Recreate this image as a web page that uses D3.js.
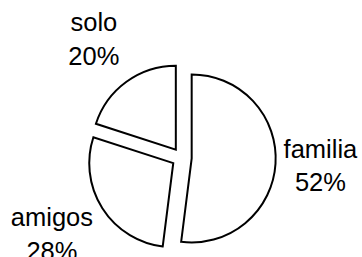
<!DOCTYPE html>
<html>
<head>
<meta charset="utf-8">
<script src="https://cdnjs.cloudflare.com/ajax/libs/d3/7.8.5/d3.min.js"></script>
<style>
  html, body { margin: 0; padding: 0; background: #fff; }
  text { font-family: "Liberation Sans", Arial, sans-serif; font-size: 25.5px; fill: #000; }
</style>
</head>
<body>
<div id="chart"></div>
<script>
var w = 362,
    h = 257;

// data
var categories = ["familia", "amigos", "solo"];
var values = [52, 28, 20];
var percentLabels = ["52%", "28%", "20%"];

var cx = 181.7,
    cy = 157.8,
    radius = 84,
    explode = 10,
    labelRadius = 146,
    lineGap = 33.5;

// small hand nudges so the labels sit where excel put them
var labelNudge = [[-7, -1.5], [-6.5, -2.5], [-2, -1]];

var slices = categories.map(function(c, i) {
  return { name: c, value: values[i], pct: percentLabels[i] };
});

var pie = d3.pie()
    .sort(null)
    .value(function(d) { return d.value; });

var arc = d3.arc()
    .innerRadius(0)
    .outerRadius(radius);

var svg = d3.select("#chart").append("svg")
    .attr("width", w)
    .attr("height", h);

var g = svg.append("g")
    .attr("transform", "translate(" + cx + "," + cy + ")");

var arcs = pie(slices);

function midDir(d) {
  var a = (d.startAngle + d.endAngle) / 2;
  return [Math.sin(a), -Math.cos(a)];
}

g.selectAll("path.slice")
    .data(arcs)
  .enter().append("path")
    .attr("class", "slice")
    .attr("d", arc)
    .attr("transform", function(d) {
      var m = midDir(d);
      return "translate(" + (m[0] * explode) + "," + (m[1] * explode) + ")";
    })
    .style("fill", "#fff")
    .style("stroke", "#000")
    .style("stroke-width", 2)
    .style("stroke-linejoin", "miter");

var labels = g.selectAll("text.label")
    .data(arcs)
  .enter().append("text")
    .attr("class", "label")
    .attr("text-anchor", "middle")
    .attr("transform", function(d, i) {
      var m = midDir(d);
      return "translate(" + (m[0] * labelRadius + labelNudge[i][0]) + "," +
          (m[1] * labelRadius + labelNudge[i][1]) + ")";
    });

labels.append("tspan")
    .attr("x", 0)
    .attr("y", -7.5)
    .text(function(d) { return d.data.name; });

labels.append("tspan")
    .attr("x", 0)
    .attr("y", -7.5 + lineGap)
    .text(function(d) { return d.data.pct; });
</script>
</body>
</html>
